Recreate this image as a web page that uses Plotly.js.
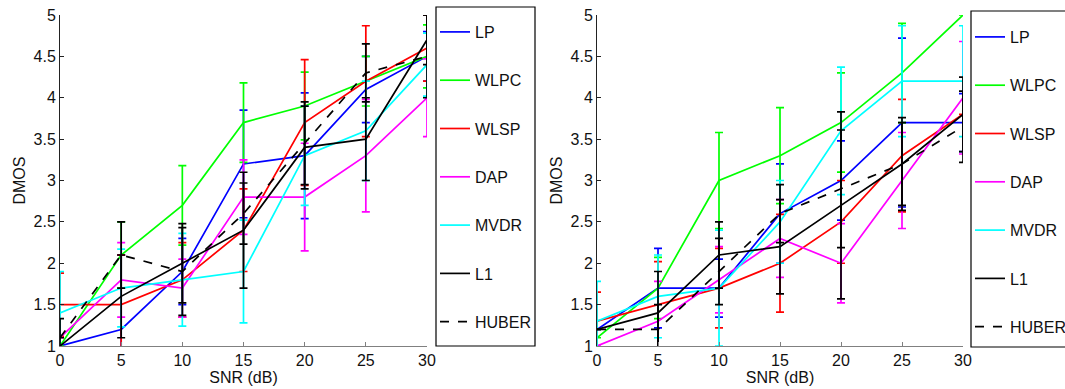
<!DOCTYPE html>
<html>
<head>
<meta charset="utf-8">
<script src="https://cdn.plot.ly/plotly-3.0.1.min.js"></script>
<style>html,body{margin:0;padding:0;background:#fff;}#chart{width:1065px;height:389px;}</style>
</head>
<body>
<div id="chart"></div>
<script>
// ---- data ----
const snr = [0, 5, 10, 15, 20, 25, 30];
const methods = ['LP', 'WLPC', 'WLSP', 'DAP', 'MVDR', 'L1', 'HUBER'];
const xTicks = [0, 5, 10, 15, 20, 25, 30];
const yTicks = [1, 1.5, 2, 2.5, 3, 3.5, 4, 4.5, 5];

// left panel
const leftLP      = [1.0, 1.2, 1.9, 3.2, 3.3, 4.1, 4.5];
const leftLPErr   = [null, 0.9, 0.4, 0.65, 0.76, 0.4, 0.3];
const leftWLPC    = [1.0, 2.1, 2.7, 3.7, 3.9, 4.2, 4.5];
const leftWLPCErr = [null, 0.4, 0.48, 0.48, 0.41, 0.3, 0.38];
const leftWLSP    = [1.5, 1.5, 1.8, 2.4, 3.7, 4.2, 4.6];
const leftWLSPErr = [0.38, 0.6, 0.45, 0.5, 0.76, 0.67, 0.4];
const leftDAP     = [1.1, 1.8, 1.7, 2.8, 2.8, 3.3, 4.0];
const leftDAPErr  = [null, 0.45, 0.35, 0.45, 0.65, 0.68, 0.47];
const leftMVDR    = [1.4, 1.7, 1.8, 1.9, 3.3, 3.6, 4.4];
const leftMVDRErr = [0.5, 0.47, 0.56, 0.62, 0.6, 0.6, 0.38];
const leftL1      = [1.0, 1.6, 2.0, 2.4, 3.4, 3.5, 4.7];
const leftL1Err   = [0.33, 0.5, 0.48, 0.7, 0.5, 0.5, 0.3];
const leftHUBER   = [1.1, 2.1, 1.9, 2.6, 3.45, 4.3, 4.5];
const leftHUBERErr= [null, 0.4, 0.53, 0.37, 0.5, 0.35, 0.5];

// right panel
const rightLP      = [1.2, 1.7, 1.7, 2.6, 3.0, 3.7, 3.7];
const rightLPErr   = [null, 0.48, 0.35, 0.6, 0.48, 1.02, 0.35];
const rightWLPC    = [1.1, 1.7, 3.0, 3.3, 3.7, 4.3, 5.0];
const rightWLPCErr = [null, 0.37, 0.58, 0.58, 0.6, 0.6, null];
const rightWLSP    = [1.3, 1.5, 1.7, 2.0, 2.5, 3.3, 3.8];
const rightWLSPErr = [0.35, 0.52, 0.48, 0.59, 0.5, 0.68, null];
const rightDAP     = [1.0, 1.3, 1.8, 2.3, 2.0, 3.0, 4.0];
const rightDAPErr  = [null, 0.48, 0.4, 0.47, 0.48, 0.58, 0.68];
const rightMVDR    = [1.3, 1.6, 1.7, 2.5, 3.6, 4.2, 4.2];
const rightMVDRErr = [0.48, 0.5, 0.7, 0.5, 0.77, 0.67, 0.67];
const rightL1      = [1.2, 1.4, 2.1, 2.2, 2.7, 3.2, 3.8];
const rightL1Err   = [null, 0.5, 0.4, 0.57, 1.13, 0.56, 0.45];
const rightHUBER   = [1.2, 1.2, 1.9, 2.6, 2.9, 3.2, 3.65];
const rightHUBERErr= [null, 0.3, 0.4, 0.35, 0.71, 0.5, 0.43];

// ---- styles ----
const colors = ['#0000ff', '#00ff00', '#ff0000', '#ff00ff', '#00ffff', '#000000', '#000000'];
const dashes = ['solid', 'solid', 'solid', 'solid', 'solid', 'solid', 'dash'];
const FONT = 'Liberation Sans, Arial, Helvetica, sans-serif';

const leftVals = [leftLP, leftWLPC, leftWLSP, leftDAP, leftMVDR, leftL1, leftHUBER];
const leftErrs = [leftLPErr, leftWLPCErr, leftWLSPErr, leftDAPErr, leftMVDRErr, leftL1Err, leftHUBERErr];
const rightVals = [rightLP, rightWLPC, rightWLSP, rightDAP, rightMVDR, rightL1, rightHUBER];
const rightErrs = [rightLPErr, rightWLPCErr, rightWLSPErr, rightDAPErr, rightMVDRErr, rightL1Err, rightHUBERErr];

const traces = [];
function addPanel(vals, errs, xa, ya, legendId, prefix) {
  methods.forEach((m, i) => {
    traces.push({
      type: 'scatter', mode: 'lines',
      x: snr, y: vals[i], name: m,
      xaxis: xa, yaxis: ya,
      legend: legendId, legendgroup: prefix + m,
      line: {color: colors[i], width: 1.7, dash: dashes[i]},
      error_y: {type: 'data', array: errs[i], symmetric: true, visible: true,
                color: colors[i], thickness: 1.7, width: 4}
    });
  });
}
addPanel(leftVals, leftErrs, 'x', 'y', 'legend', 'L');
addPanel(rightVals, rightErrs, 'x2', 'y2', 'legend2', 'R');

const W = 1065, H = 389;
const px = v => v / W, py = v => 1 - v / H;

function xAxis(domain, anchor) {
  return {
    domain: domain, anchor: anchor, range: [0, 30],
    tickvals: xTicks, ticks: 'inside', ticklen: 4, tickcolor: '#808080', tickwidth: 1,
    showline: true, linecolor: '#808080', linewidth: 1, mirror: false,
    showgrid: false, zeroline: false, fixedrange: true, automargin: false,
    tickfont: {family: FONT, size: 16, color: '#111'},
    title: {text: 'SNR (dB)', font: {family: FONT, size: 16, color: '#111'}, standoff: 2}
  };
}
function yAxis(domain, anchor) {
  return {
    domain: domain, anchor: anchor, range: [1, 5],
    tickvals: yTicks, ticks: 'inside', ticklen: 4, tickcolor: '#222', tickwidth: 1,
    showline: true, linecolor: '#222', linewidth: 1, mirror: false,
    showgrid: false, zeroline: false, fixedrange: true, automargin: false,
    tickfont: {family: FONT, size: 16, color: '#111'},
    title: {text: 'DMOS', font: {family: FONT, size: 16, color: '#111'}, standoff: 3}
  };
}

const yDom = [py(346), py(15)];
const legendCommon = {
  orientation: 'v', xanchor: 'left', yanchor: 'top',
  bgcolor: 'rgba(0,0,0,0)', borderwidth: 0,
  font: {family: FONT, size: 16, color: '#111'},
  tracegroupgap: 24.5, itemclick: false, itemdoubleclick: false
};

const layout = {
  width: W, height: H,
  margin: {l: 0, r: 0, t: 0, b: 0, pad: 0, autoexpand: false},
  paper_bgcolor: '#fff', plot_bgcolor: '#fff',
  showlegend: true,
  xaxis: xAxis([px(60), px(427)], 'y'),
  yaxis: yAxis(yDom, 'x'),
  xaxis2: xAxis([px(597), px(963)], 'y2'),
  yaxis2: yAxis(yDom, 'x2'),
  legend: Object.assign({}, legendCommon, {x: px(435), y: py(15)}),
  legend2: Object.assign({}, legendCommon, {x: px(970), y: py(20)}),
  shapes: [
    {type: 'rect', xref: 'paper', yref: 'paper', x0: px(436), x1: px(535), y0: py(346), y1: py(7),
     line: {color: '#000', width: 1.2}, fillcolor: 'rgba(0,0,0,0)'},
    {type: 'rect', xref: 'paper', yref: 'paper', x0: px(971), x1: px(1075), y0: py(347), y1: py(11),
     line: {color: '#000', width: 1.2}, fillcolor: 'rgba(0,0,0,0)'}
  ]
};

Plotly.newPlot('chart', traces, layout, {displayModeBar: false, staticPlot: true});
</script>
</body>
</html>
